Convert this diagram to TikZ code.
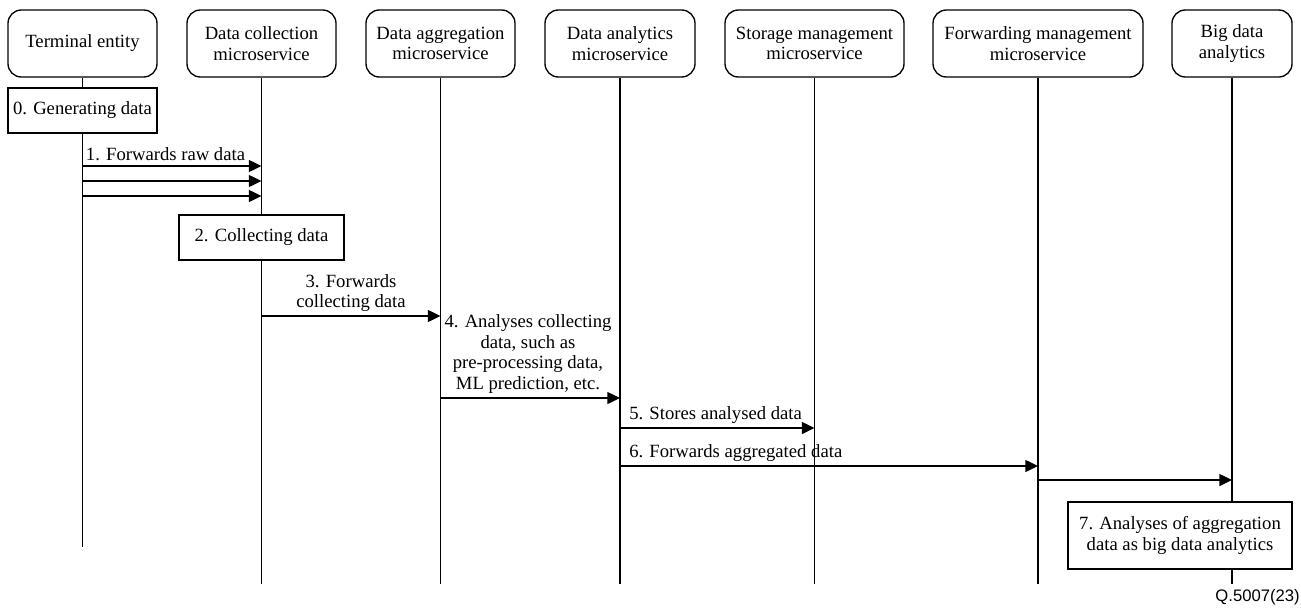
\documentclass[tikz,border=0pt]{standalone}
\usepackage{fontspec}
\setmainfont{Liberation Serif}
\newfontfamily\qsans{Liberation Sans}
\usetikzlibrary{arrows.meta}
\begin{document}
\begin{tikzpicture}[x=0.75pt,y=-0.75pt,
  every node/.style={font=\fontsize{14}{15.3}\selectfont, inner sep=0pt},
  hdr/.style={draw, line width=1pt, rounded corners=10pt, align=center, fill=white, minimum height=50.25pt},
  act/.style={draw, line width=1pt, fill=white, align=center},
  life/.style={line width=1pt},
  msg/.style={line width=1pt, -{Triangle[length=9.5pt,width=9pt]}},
  lbl/.style={align=center}]
\useasboundingbox (0,0) rectangle (1301,607);

% headers
\node[hdr, minimum width=111.75pt] (te) at (82.5,43.5) {Terminal entity};
\node[hdr, minimum width=111.75pt] (dc) at (261.5,43.5) {Data collection\\microservice};
\node[hdr, minimum width=111.75pt] (da) at (440.5,43.5) {Data aggregation\\microservice};
\node[hdr, minimum width=112.5pt] (an) at (620,43.5) {Data analytics\\microservice};
\node[hdr, minimum width=134.25pt] (sm) at (814.5,43.5) {Storage management\\microservice};
\node[hdr, minimum width=157.5pt] (fm) at (1038,43.5) {Forwarding management\\microservice};
\node[hdr, minimum width=90pt] (bd) at (1232,43.5) {Big data\\analytics};

% lifeline ends
\coordinate (te-end) at (te.south |- 0,547);
\coordinate (dc-end) at (dc.south |- 0,584);
\coordinate (da-end) at (da.south |- 0,584);
\coordinate (an-end) at (an.south |- 0,584);
\coordinate (sm-end) at (sm.south |- 0,584);
\coordinate (fm-end) at (fm.south |- 0,584);
\coordinate (bd-end) at (bd.south |- 0,584);
\foreach \n in {te,dc,da,an,sm,fm,bd} \draw[life] (\n.south) -- (\n-end);

% activity boxes
\node[act, minimum width=111.75pt, minimum height=33.75pt] (a0) at (82.5,110.5) {0. Generating data};
\node[act, minimum width=123.75pt, minimum height=33.75pt] (a2) at (261.5,237.5) {2. Collecting data};
\node[act, minimum width=168pt, minimum height=50.25pt] (a7) at (1180,535.5) {7. Analyses of aggregation\\data as big data analytics};

% messages
\draw[msg] (te.south |- 0,166) -- (dc.south |- 0,166);
\draw[msg] (te.south |- 0,181) -- (dc.south |- 0,181);
\draw[msg] (te.south |- 0,196) -- (dc.south |- 0,196);
\node[lbl] (l1) at (165.5,154) {1. Forwards raw data};

\draw[msg] (dc.south |- 0,316) -- (da.south |- 0,316);
\node[lbl] (l3) at (351,293) {3. Forwards\\collecting data};

\node[lbl] (l4) at (528,354) {4. Analyses collecting\\data, such as\\pre-processing data,\\ML prediction, etc.};
\draw[msg] (da.south |- 0,398) -- (an.south |- 0,398);

\node[anchor=west] (l5) at (629,415) {5. Stores analysed data};
\draw[msg] (an.south |- 0,428) -- (sm.south |- 0,428);

\node[anchor=west] (l6) at (629,453) {6. Forwards aggregated data};
\draw[msg] (an.south |- 0,466) -- (fm.south |- 0,466);

\draw[msg] (fm.south |- 0,480) -- (bd.south |- 0,480);

\node[anchor=east, font=\qsans\fontsize{12.5}{14}\selectfont] (qref) at (1300,597) {Q.5007(23)};
\end{tikzpicture}
\end{document}
